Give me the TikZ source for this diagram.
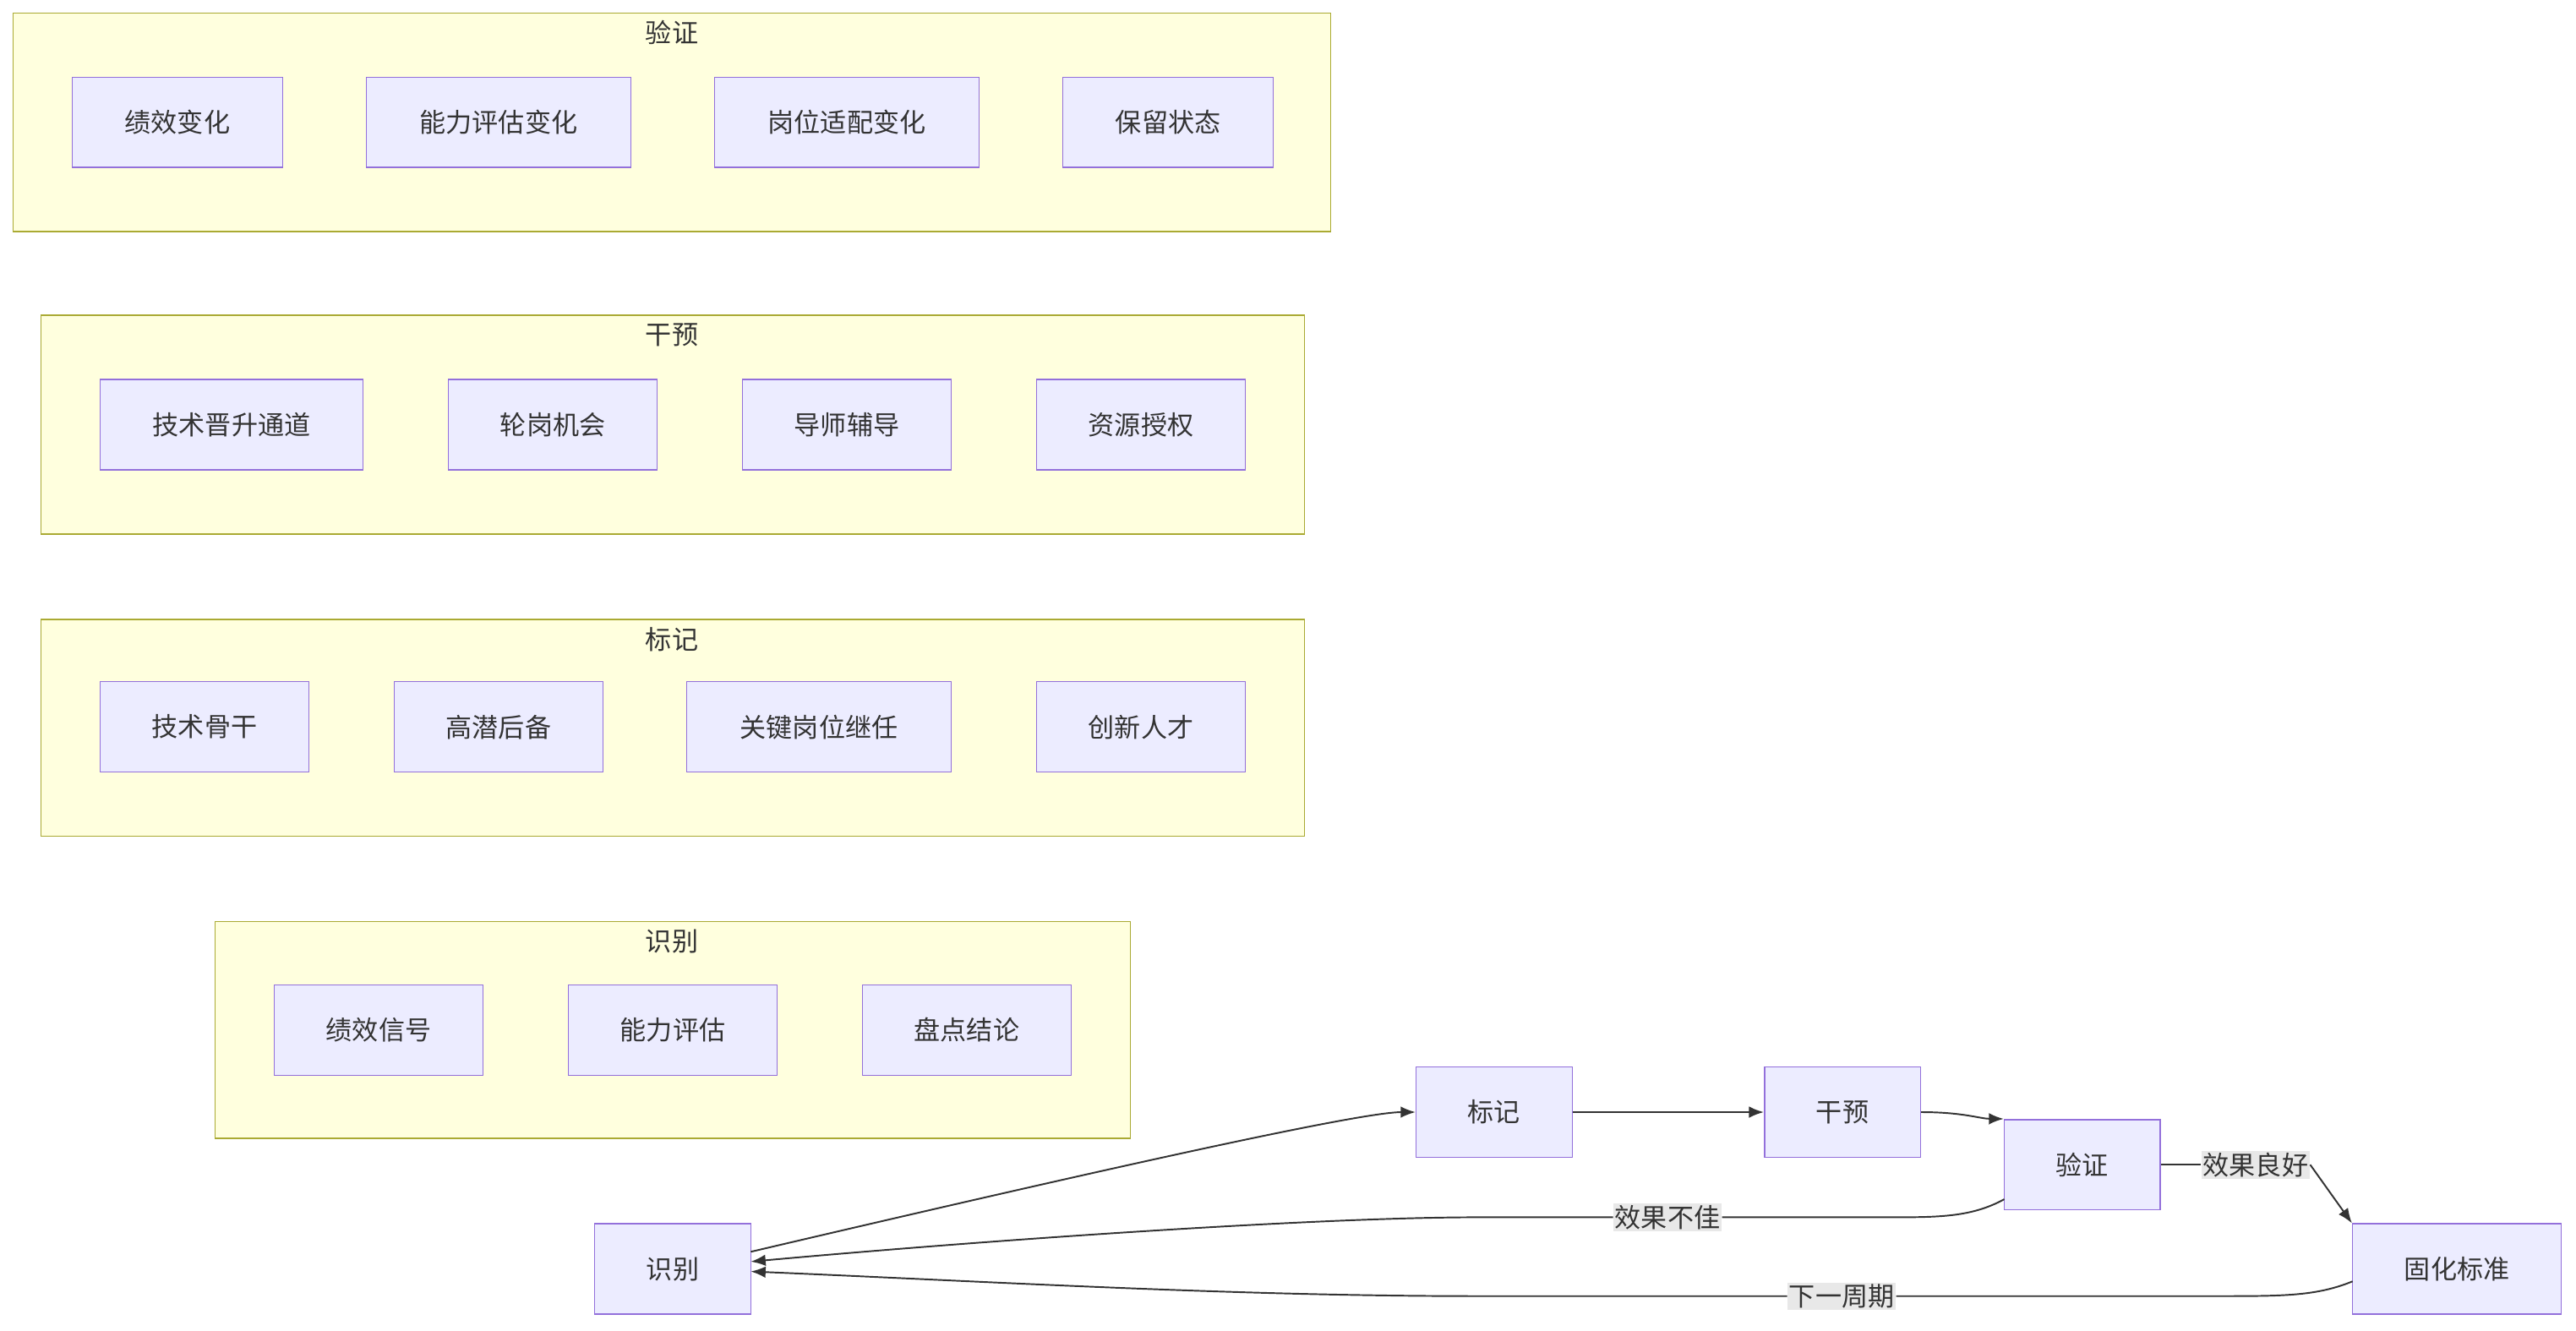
\documentclass[tikz,border=0pt]{standalone}
\usepackage{fontspec}
\setmainfont{Noto Sans CJK SC}
\usetikzlibrary{arrows.meta}
\definecolor{nfill}{HTML}{ECECFF}
\definecolor{nline}{HTML}{9370DB}
\definecolor{cfill}{HTML}{FFFFDE}
\definecolor{cline}{HTML}{AAAA33}
\definecolor{eline}{HTML}{333333}
\definecolor{lbg}{HTML}{E8E8E8}
\tikzset{
 box/.style={draw=nline,fill=nfill,line width=0.8pt,minimum height=55pt,inner sep=0pt,font=\fontsize{16}{19}\selectfont,text=eline},
 clus/.style={draw=cline,fill=cfill,line width=0.8pt},
 ctitle/.style={font=\fontsize{16}{19}\selectfont,text=eline},
 edge/.style={draw=eline,line width=1pt,-{Latex[length=9pt,width=7pt]}},
 elabel/.style={fill=lbg,inner sep=1pt,font=\fontsize{16}{19}\selectfont,text=eline}
}
\begin{document}
\begin{tikzpicture}[x=1pt,y=-1pt]
\useasboundingbox (0,0) rectangle (1568,810);
\fill[white] (0,0) rectangle (1568,810);
% clusters
\draw[clus] (8,8) rectangle (810,141);
\node[ctitle] (t1) at (409,20) {验证};
\draw[clus] (25,192) rectangle (794,325);
\node[ctitle] (t2) at (409,204) {干预};
\draw[clus] (25,377) rectangle (794,509);
\node[ctitle] (t3) at (409,389) {标记};
\draw[clus] (131,561) rectangle (688,693);
\node[ctitle] (t4) at (409,573) {识别};
% cluster nodes
\node[box,minimum width=128pt] (a1) at (108,74.5) {绩效变化};
\node[box,minimum width=161pt] (a2) at (303.5,74.5) {能力评估变化};
\node[box,minimum width=161pt] (a3) at (515.5,74.5) {岗位适配变化};
\node[box,minimum width=128pt] (a4) at (711,74.5) {保留状态};
\node[box,minimum width=160pt] (b1) at (141,258.5) {技术晋升通道};
\node[box,minimum width=127pt] (b2) at (336.5,258.5) {轮岗机会};
\node[box,minimum width=127pt] (b3) at (515.5,258.5) {导师辅导};
\node[box,minimum width=127pt] (b4) at (694.5,258.5) {资源授权};
\node[box,minimum width=127pt] (c1) at (124.5,442.5) {技术骨干};
\node[box,minimum width=127pt] (c2) at (303.5,442.5) {高潜后备};
\node[box,minimum width=161pt] (c3) at (498.5,442.5) {关键岗位继任};
\node[box,minimum width=127pt] (c4) at (694.5,442.5) {创新人才};
\node[box,minimum width=127pt] (d1) at (230.5,627) {绩效信号};
\node[box,minimum width=127pt] (d2) at (409.5,627) {能力评估};
\node[box,minimum width=127pt] (d3) at (588.5,627) {盘点结论};
% flow nodes
\node[box,minimum width=95pt] (sb) at (909.5,677) {标记};
\node[box,minimum width=95pt] (ss) at (409.5,772.5) {识别};
\node[box,minimum width=95pt] (gy) at (1121.5,677) {干预};
\node[box,minimum width=95pt] (yz) at (1267.5,709) {验证};
\node[box,minimum width=127pt] (gh) at (1495.5,772.5) {固化标准};
% edges
\coordinate (s1) at (457,762);
\draw[edge] (s1) .. controls (700,705) and (830,677) .. (sb.west);
\draw[edge] (sb.east) -- (gy.west);
\draw[edge] (gy.east) .. controls (1195,677) and (1205,681) .. (yz.north west);
\node[elabel] (l1) at (1373,709) {效果良好};
\draw[eline,line width=1pt] (yz.east) -- (l1.west);
\draw[edge] (l1.east) -- (gh.north west);
\node[elabel] (l2) at (1015,741) {效果不佳};
\coordinate (s2) at (457,768);
\coordinate (y2) at (1220,730);
\draw[edge] (y2) .. controls (1200,741) and (1180,741) .. (1150,741) -- (l2.east) (l2.west) -- (900,741) .. controls (800,741) and (600,755) .. (s2);
\node[elabel] (l3) at (1121,789) {下一周期};
\coordinate (s3) at (457,774);
\coordinate (g2) at (1432,780);
\draw[edge] (g2) .. controls (1410,789) and (1390,789) .. (1350,789) -- (l3.east) (l3.west) -- (900,789) .. controls (750,789) and (600,780) .. (s3);
\end{tikzpicture}
\end{document}
